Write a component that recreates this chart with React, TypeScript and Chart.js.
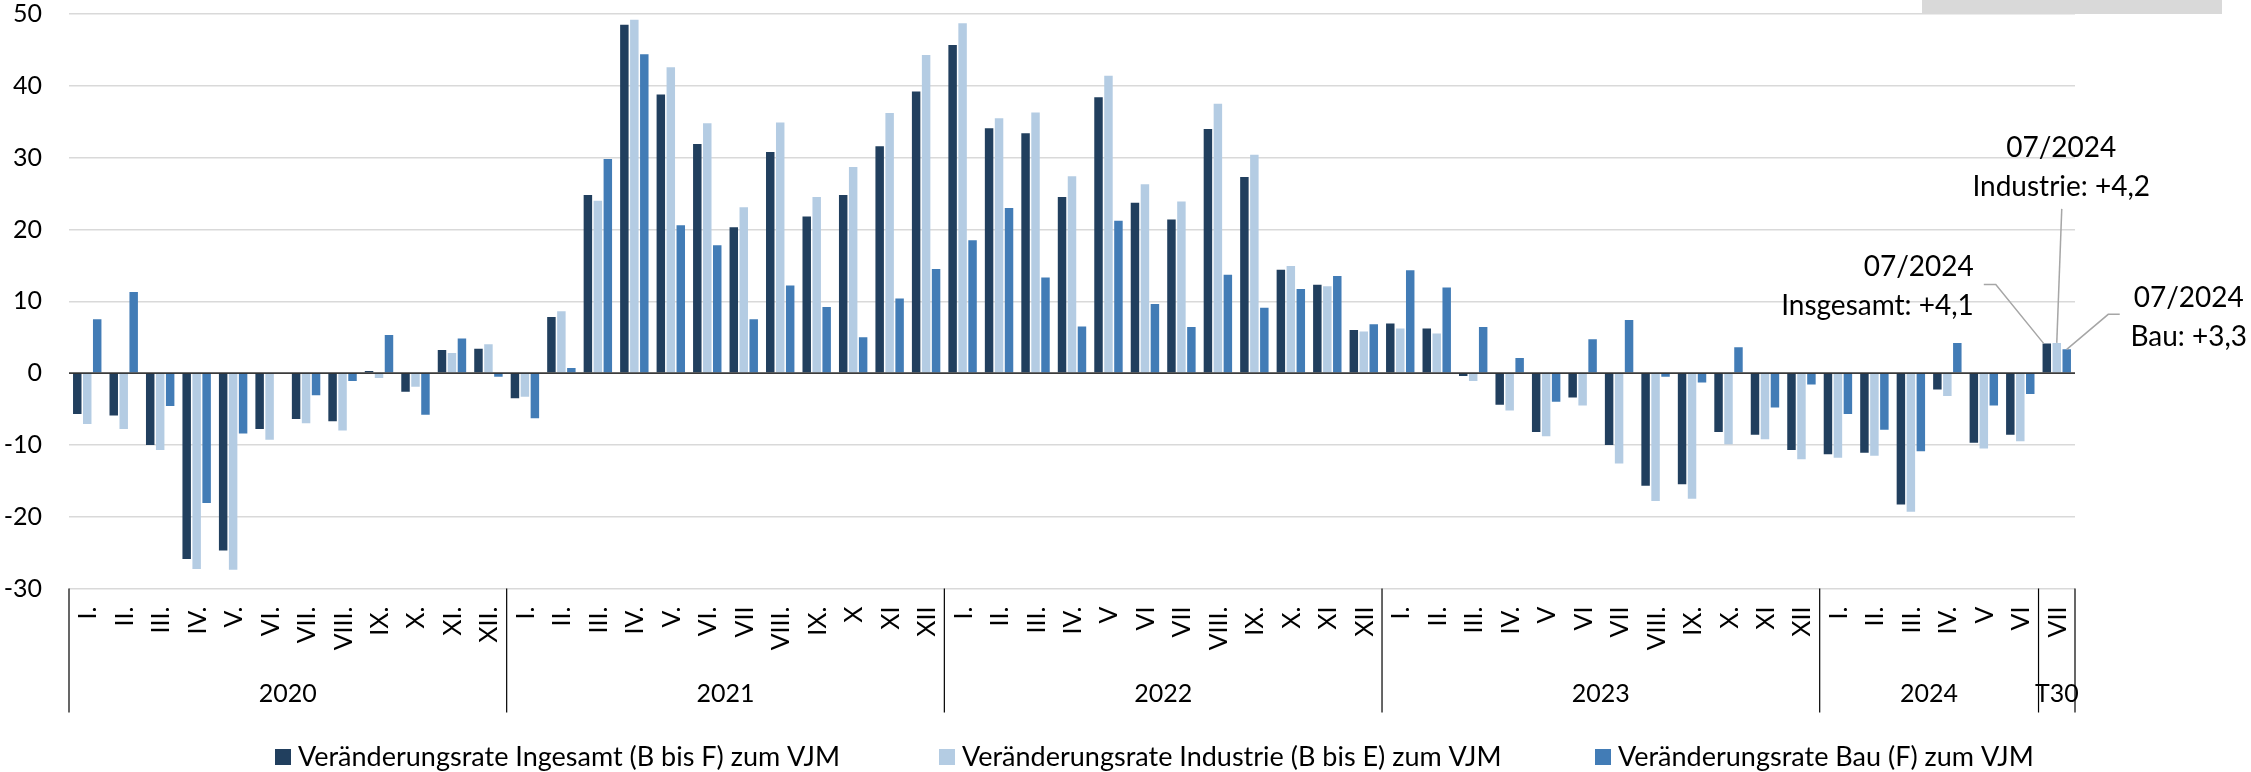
import React, { useEffect, useRef } from "react";
import { Chart, registerables } from "chart.js";

Chart.register(...registerables);

// ---------- DATA ----------
const monthLabels = [
  "I.", "II.", "III.", "IV.", "V.", "VI.", "VII.", "VIII.", "IX.", "X.", "XI.", "XII.",
  "I.", "II.", "III.", "IV.", "V.", "VI.", "VII", "VIII.", "IX.", "X", "XI", "XII",
  "I.", "II.", "III.", "IV.", "V", "VI", "VII", "VIII.", "IX.", "X.", "XI", "XII",
  "I.", "II.", "III.", "IV.", "V", "VI", "VII", "VIII.", "IX.", "X.", "XI", "XII",
  "I.", "II.", "III.", "IV.", "V", "VI",
  "VII",
];

const yearLabels = ["2020", "2021", "2022", "2023", "2024", "T30"];
const yearSpans = [12, 12, 12, 12, 6, 1];

const ingesamt = [
  -5.7, -5.9, -10.0, -25.9, -24.7, -7.8, -6.4, -6.7, 0.3, -2.6, 3.2, 3.4,
  -3.5, 7.8, 24.8, 48.5, 38.8, 31.9, 20.3, 30.8, 21.8, 24.8, 31.6, 39.2,
  45.7, 34.1, 33.4, 24.5, 38.4, 23.7, 21.4, 34.0, 27.3, 14.4, 12.3, 6.0,
  6.9, 6.2, -0.4, -4.4, -8.2, -3.4, -10.0, -15.7, -15.5, -8.2, -8.6, -10.7,
  -11.3, -11.1, -18.3, -2.3, -9.7, -8.6,
  4.1,
];

const industrie = [
  -7.1, -7.8, -10.7, -27.3, -27.4, -9.3, -7.0, -8.0, -0.7, -1.9, 2.8, 4.0,
  -3.3, 8.6, 24.0, 49.2, 42.6, 34.8, 23.1, 34.9, 24.5, 28.7, 36.2, 44.3,
  48.7, 35.5, 36.3, 27.4, 41.4, 26.3, 23.9, 37.5, 30.4, 14.9, 12.1, 5.8,
  6.2, 5.5, -1.1, -5.2, -8.8, -4.5, -12.6, -17.8, -17.5, -9.9, -9.2, -12.0,
  -11.8, -11.5, -19.3, -3.2, -10.5, -9.5,
  4.2,
];

const bau = [
  7.5, 11.3, -4.6, -18.1, -8.4, -0.1, -3.1, -1.1, 5.3, -5.8, 4.8, -0.5,
  -6.3, 0.7, 29.8, 44.4, 20.6, 17.8, 7.5, 12.2, 9.2, 5.0, 10.4, 14.5,
  18.5, 23.0, 13.3, 6.5, 21.2, 9.6, 6.4, 13.7, 9.1, 11.7, 13.5, 6.8,
  14.3, 11.9, 6.4, 2.1, -4.0, 4.7, 7.4, -0.5, -1.3, 3.6, -4.8, -1.6,
  -5.7, -7.9, -10.9, 4.2, -4.5, -2.9,
  3.3,
];

const seriesNames = [
  "Veränderungsrate Ingesamt (B bis F) zum VJM",
  "Veränderungsrate Industrie (B bis E) zum VJM",
  "Veränderungsrate Bau (F) zum VJM",
];

const annotationTexts = [
  ["07/2024", "Insgesamt: +4,1"],
  ["07/2024", "Industrie: +4,2"],
  ["07/2024", "Bau: +3,3"],
];

const yMin = -30;
const yMax = 50;
const yStep = 10;

// ---------- STYLE ----------
const FONT = "Lato, 'Open Sans', sans-serif";
const colors = ["#213f5e", "#b4cce3", "#427cb6"];

// label placement relative to the last bar of each series
const annotationLayout = [
  { align: "right" as CanvasTextAlign, tx: -73, ty: [-78, -39], path: [[-63, -59], [-51, -59], [-3, 0]] },
  { align: "center" as CanvasTextAlign, tx: 4.5, ty: [-196, -157], path: [[5, -134], [0, 0]] },
  { align: "center" as CanvasTextAlign, tx: 122, ty: [-52, -13], path: [[53, -35], [41.5, -35], [0, 0]] },
];

const overlayPlugin = {
  id: "overlay",
  afterDatasetsDraw(chart: any) {
    const { ctx, chartArea, scales } = chart;
    const y0 = scales.y.getPixelForValue(0);
    ctx.save();
    ctx.strokeStyle = "#000";
    ctx.lineWidth = 1.3;
    ctx.beginPath();
    ctx.moveTo(chartArea.left, y0);
    ctx.lineTo(chartArea.right, y0);
    ctx.stroke();
    ctx.restore();
  },
  afterDraw(chart: any) {
    const { ctx, chartArea, scales } = chart;
    const xs = scales.x;
    const half = (xs.getPixelForValue(1) - xs.getPixelForValue(0)) / 2;
    const bottom = chartArea.bottom;
    ctx.save();

    // separators between year groups
    ctx.strokeStyle = "#000";
    ctx.lineWidth = 1.2;
    const bounds: number[] = [xs.getPixelForValue(0) - half];
    let idx = 0;
    yearSpans.forEach((n) => {
      idx += n;
      bounds.push(xs.getPixelForValue(idx - 1) + half);
    });
    bounds.forEach((bx) => {
      ctx.beginPath();
      ctx.moveTo(bx, bottom);
      ctx.lineTo(bx, bottom + 124);
      ctx.stroke();
    });

    // month labels (rotated)
    ctx.fillStyle = "#000";
    ctx.font = `25px ${FONT}`;
    ctx.textAlign = "right";
    ctx.textBaseline = "alphabetic";
    monthLabels.forEach((lab, i) => {
      const px = xs.getPixelForValue(i);
      ctx.save();
      ctx.translate(px, bottom + 18);
      ctx.rotate(-Math.PI / 2);
      ctx.fillText(lab, 0, 9);
      ctx.restore();
    });

    // year labels
    ctx.textAlign = "center";
    ctx.font = `25px ${FONT}`;
    yearLabels.forEach((lab, i) => {
      const cx = (bounds[i] + bounds[i + 1]) / 2;
      ctx.fillText(lab, cx, bottom + 113.5);
    });

    // annotations
    annotationLayout.forEach((a, d) => {
      const meta = chart.getDatasetMeta(d);
      const el = meta.data[meta.data.length - 1];
      if (!el) return;
      const bx = el.x;
      const by = el.y;
      ctx.strokeStyle = "#a6a6a6";
      ctx.lineWidth = 1.5;
      ctx.beginPath();
      a.path.forEach((p, k) => {
        if (k === 0) ctx.moveTo(bx + p[0], by + p[1]);
        else ctx.lineTo(bx + p[0], by + p[1]);
      });
      ctx.stroke();
      ctx.fillStyle = "#000";
      ctx.font = `28px ${FONT}`;
      ctx.textAlign = a.align;
      annotationTexts[d].forEach((t, k) => {
        ctx.fillText(t, bx + a.tx, by + a.ty[k] + 10);
      });
    });

    // legend
    const sqX = [275, 939, 1595];
    ctx.font = `27px ${FONT}`;
    ctx.textAlign = "left";
    seriesNames.forEach((name, i) => {
      ctx.fillStyle = colors[i];
      ctx.fillRect(sqX[i], 749, 16, 16);
      ctx.fillStyle = "#000";
      ctx.fillText(name, sqX[i] + 23, 766);
    });

    ctx.restore();
  },
};

export default function App() {
  const canvasRef = useRef<HTMLCanvasElement | null>(null);

  useEffect(() => {
    if (!canvasRef.current) return;
    const chart = new Chart(canvasRef.current, {
      type: "bar",
      data: {
        labels: monthLabels,
        datasets: [
          { label: seriesNames[0], data: ingesamt, backgroundColor: colors[0] },
          { label: seriesNames[1], data: industrie, backgroundColor: colors[1] },
          { label: seriesNames[2], data: bau, backgroundColor: colors[2] },
        ],
      },
      options: {
        responsive: false,
        animation: false,
        devicePixelRatio: 1,
        datasets: { bar: { categoryPercentage: 0.82, barPercentage: 0.85 } },
        layout: { padding: { top: 14, right: 176, bottom: 183.5, left: 0 } },
        plugins: { legend: { display: false }, tooltip: { enabled: false } },
        scales: {
          x: { display: false, offset: true, grid: { display: false } },
          y: {
            min: yMin,
            max: yMax,
            ticks: { stepSize: yStep, color: "#000", font: { family: FONT, size: 25 }, padding: 27 },
            grid: { color: "#d9d9d9", lineWidth: 1.5, drawTicks: false },
            border: { display: false },
            afterFit(s: any) {
              s.width = 69;
              s.paddingTop = 0;
              s.paddingBottom = 0;
            },
          },
        },
      },
      plugins: [overlayPlugin],
    } as any);
    return () => chart.destroy();
  }, []);

  return (
    <div style={{ position: "absolute", left: 0, top: 0, width: 2251, height: 772, background: "#fff", overflow: "hidden" }}>
      <canvas ref={canvasRef} width={2251} height={772} style={{ display: "block" }} />
      <div style={{ position: "absolute", left: 1922, top: 0, width: 300, height: 14, background: "#d9d9d9" }} />
    </div>
  );
}
